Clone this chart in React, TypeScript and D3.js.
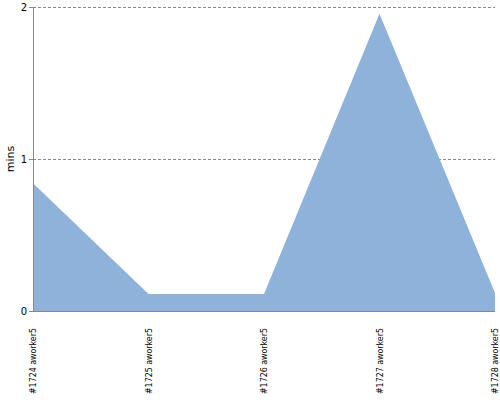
import React from "react";
import * as d3 from "d3";

const categories = ["#1724 aworker5", "#1725 aworker5", "#1726 aworker5", "#1727 aworker5", "#1728 aworker5"];
const values = [0.84, 0.112, 0.112, 1.955, 0.118];
const yTicks = [0, 1, 2];
const yLabel = "mins";

export default function App() {
  const W = 500, H = 400;
  const left = 33, right = 495, top = 7, bottom = 311;
  const x = d3.scalePoint<string>().domain(categories).range([left, right]);
  const y = d3.scaleLinear().domain([0, 2]).range([bottom, top]);
  const area = d3.area<number>()
    .x((_, i) => x(categories[i]) as number)
    .y0(y(0))
    .y1((d) => y(d));
  return (
    <svg width={W} height={H} style={{ position: "absolute", left: 0, top: 0 }}>
      <rect width={W} height={H} fill="#fff" />
      {yTicks.filter((t) => t > 0).map((t) => (
        <line key={t} x1={left} x2={right} y1={y(t) + 0.5} y2={y(t) + 0.5} stroke="#888" strokeDasharray="3,2" strokeWidth={1} />
      ))}
      <path d={area(values) || ""} fill="#8fb2db" />
      <line x1={left + 0.5} x2={left + 0.5} y1={top} y2={bottom} stroke="#888" />
      <line x1={left} x2={right} y1={bottom + 0.5} y2={bottom + 0.5} stroke="#888" />
      {yTicks.map((t) => (
        <g key={t}>
          <line x1={left - 4} x2={left} y1={y(t) + 0.5} y2={y(t) + 0.5} stroke="#888" />
          <text x={left - 6} y={y(t) + 4} textAnchor="end" fontFamily="DejaVu Sans" fontSize={10} fill="#000">{t}</text>
        </g>
      ))}
      {categories.map((c) => (
        <text key={c} transform={`translate(${(x(c) as number) + 3},${bottom + 17}) rotate(-90)`} textAnchor="end"
          fontFamily="DejaVu Sans Condensed, DejaVu Sans" fontSize={9} fill="#000" textLength={66} lengthAdjust="spacingAndGlyphs">{c}</text>
      ))}
      <text transform={`translate(14,${(top + bottom) / 2}) rotate(-90)`} textAnchor="middle" fontFamily="DejaVu Sans" fontSize={11} fill="#000">{yLabel}</text>
    </svg>
  );
}
